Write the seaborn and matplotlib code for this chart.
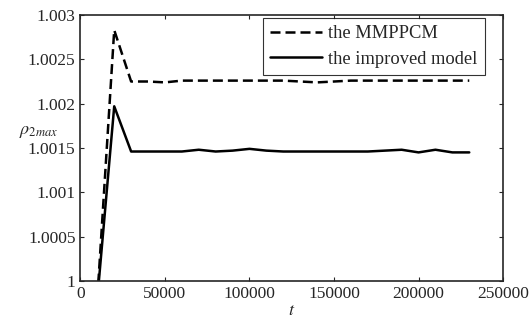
import numpy as np
import pandas as pd
import matplotlib
matplotlib.use("Agg")
import matplotlib.pyplot as plt
import seaborn as sns

# time steps and values
t = [10000, 20000, 30000, 40000, 50000, 60000, 70000, 80000, 90000, 100000,
     110000, 120000, 130000, 140000, 150000, 160000, 170000, 180000, 190000,
     200000, 210000, 220000, 230000]
mmppcm = [0.9998, 1.00283, 1.00225, 1.00225, 1.00224, 1.00226, 1.00226, 1.00226, 1.00226, 1.00226,
          1.00226, 1.00226, 1.00225, 1.00224, 1.00225, 1.00226, 1.00226, 1.00226, 1.00226,
          1.00226, 1.00226, 1.00226, 1.00226]
improved = [0.9998, 1.00197, 1.00146, 1.00146, 1.00146, 1.00146, 1.00148, 1.00146, 1.00147, 1.00149,
            1.00147, 1.00146, 1.00146, 1.00146, 1.00146, 1.00146, 1.00146, 1.00147, 1.00148,
            1.00145, 1.00148, 1.00145, 1.00145]

df = pd.DataFrame({"t": t, "the MMPPCM": mmppcm, "the improved model": improved})

sns.set_style("ticks")
plt.rcParams['font.family'] = ['Liberation Serif', 'DejaVu Serif']
plt.rcParams['mathtext.fontset'] = 'stix'
plt.rcParams['xtick.direction'] = 'in'
plt.rcParams['ytick.direction'] = 'in'

fig, ax = plt.subplots(figsize=(5.29, 3.27), dpi=100)
fig.subplots_adjust(left=0.152, right=0.951, top=0.954, bottom=0.141)

sns.lineplot(data=df, x="t", y="the MMPPCM", ax=ax, color="black", lw=1.8,
             linestyle=(0, (4, 2)), label="the MMPPCM")
sns.lineplot(data=df, x="t", y="the improved model", ax=ax, color="black", lw=1.8,
             label="the improved model")

ax.set_xlim(0, 250000)
ax.set_ylim(1, 1.003)
ax.set_xticks([0, 50000, 100000, 150000, 200000, 250000])
ax.set_yticks([1, 1.0005, 1.001, 1.0015, 1.002, 1.0025, 1.003])
ax.set_yticklabels(["1", "1.0005", "1.001", "1.0015", "1.002", "1.0025", "1.003"])
ax.tick_params(labelsize=12.5, top=True, right=True, length=3, width=0.8)
for s in ax.spines.values():
    s.set_linewidth(1.2)

ax.set_xlabel("$t$", fontsize=13, labelpad=0)
ax.set_ylabel(r"$\rho_{2max}$", fontsize=13, rotation=0, labelpad=8)
ax.yaxis.set_label_coords(-0.1, 0.53)

leg = ax.legend(loc="upper right", bbox_to_anchor=(0.957, 0.989), fontsize=13.3,
                frameon=True, fancybox=False, edgecolor="black", handlelength=2.8,
                borderpad=0.4, labelspacing=0.45, handletextpad=0.35, borderaxespad=0)
leg.get_frame().set_linewidth(0.8)

fig.savefig("out.png", dpi=100)
